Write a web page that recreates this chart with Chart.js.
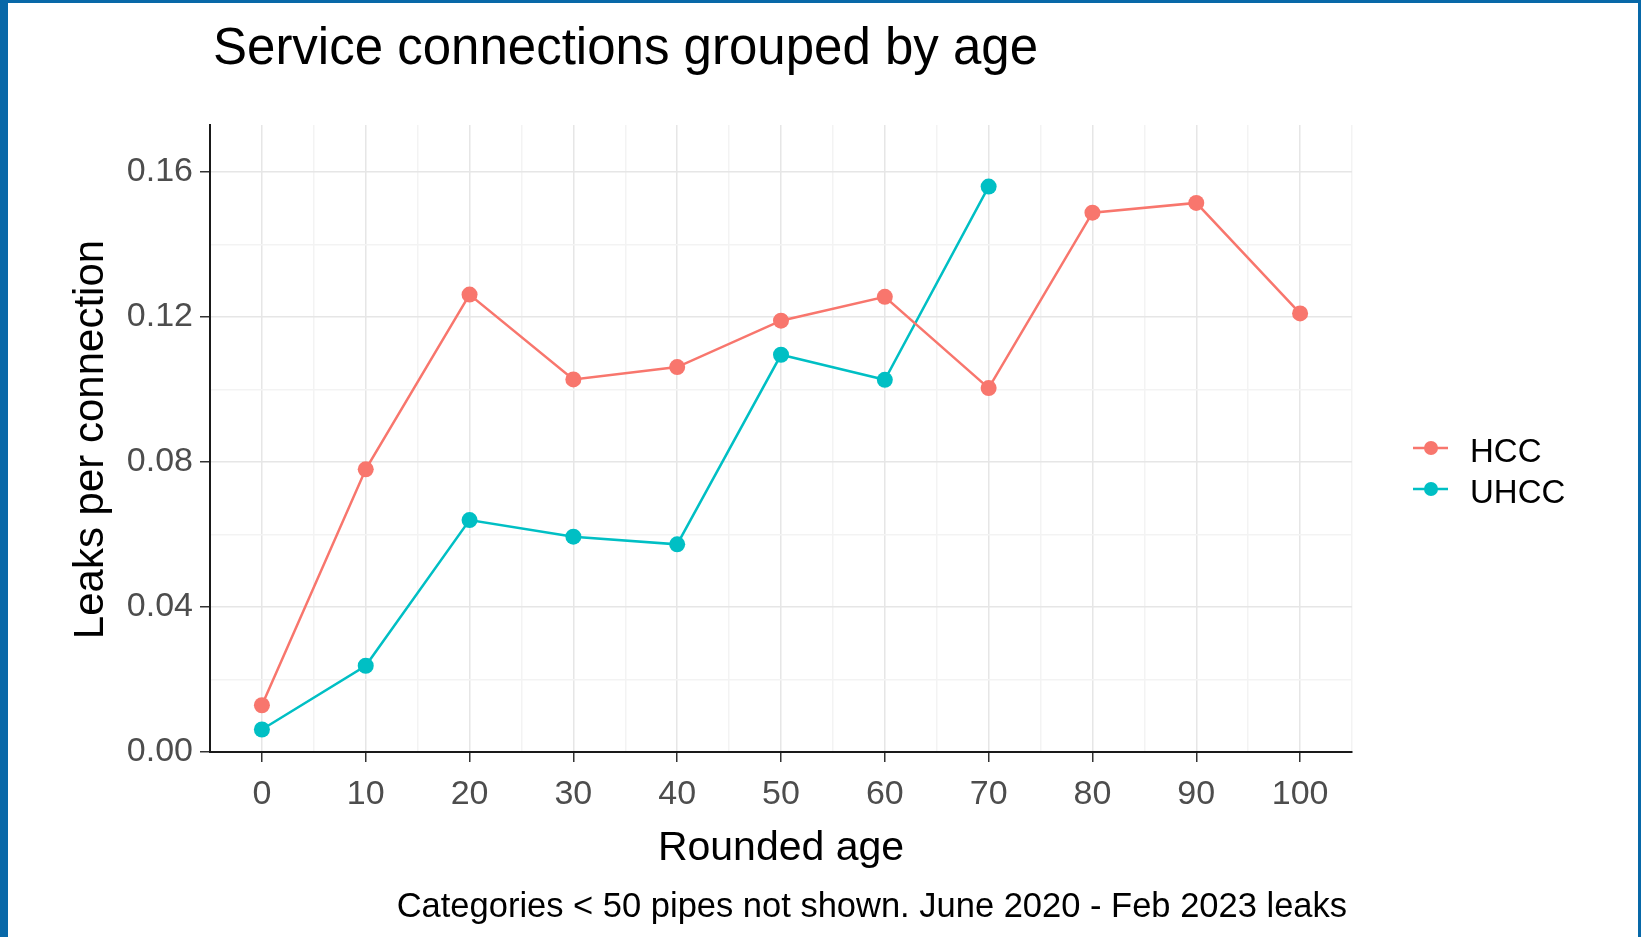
<!DOCTYPE html>
<html lang="en">
<head>
<meta charset="UTF-8" />
<title>Service connections grouped by age</title>
<script src="https://cdn.jsdelivr.net/npm/chart.js"></script>
<style>
  html, body { margin: 0; padding: 0; background: #fff; }
  #frame {
    position: absolute; left: 0; top: 0;
    width: 1641px; height: 937px; box-sizing: border-box;
    border-left: 8px solid #0868a8; border-top: 3px solid #0868a8; border-right: 3px solid #0868a8;
    background: #fff; overflow: hidden;
  }
</style>
</head>
<body>
<div id="frame">
  <canvas id="ageChart" width="1630" height="934"></canvas>
</div>
<script>
// data
const hccAges = [0, 10, 20, 30, 40, 50, 60, 70, 80, 90, 100];
const hccValues = [0.0129, 0.0780, 0.1262, 0.1028, 0.1062, 0.1190, 0.1256, 0.1004, 0.1488, 0.1515, 0.1210];
const uhccAges = [0, 10, 20, 30, 40, 50, 60, 70];
const uhccValues = [0.0062, 0.0238, 0.0640, 0.0594, 0.0573, 0.1096, 0.1027, 0.1560];
const seriesNames = ['HCC', 'UHCC'];
const seriesColors = ['#F8766D', '#00BFC4'];

const chartTitle = 'Service connections grouped by age';
const xTitle = 'Rounded age';
const yTitle = 'Leaks per connection';
const caption = 'Categories < 50 pipes not shown. June 2020 - Feb 2023 leaks';

const FONT = '"Liberation Sans", Arial, sans-serif';
const majorGrid = '#E6E6E6';
const minorGrid = '#F3F3F3';

const toPoints = (xs, ys) => xs.map((x, i) => ({ x: x, y: ys[i] }));

// titles, caption and legend drawn on top of the chart
const textPlugin = {
  id: 'textPlugin',
  afterDraw(chart) {
    const ctx = chart.ctx;
    ctx.save();
    ctx.fillStyle = '#000';

    ctx.font = '51px ' + FONT;
    ctx.textAlign = 'left';
    ctx.textBaseline = 'alphabetic';
    ctx.fillText(chartTitle, 205, 61);

    ctx.font = '41px ' + FONT;
    ctx.textAlign = 'center';
    ctx.fillText(xTitle, (chart.chartArea.left + chart.chartArea.right) / 2, 857);

    ctx.save();
    ctx.font = '42px ' + FONT;
    ctx.translate(95, (chart.chartArea.top + chart.chartArea.bottom) / 2 + 1);
    ctx.rotate(-Math.PI / 2);
    ctx.fillText(yTitle, 0, 0);
    ctx.restore();

    ctx.font = '34.5px ' + FONT;
    ctx.textAlign = 'right';
    ctx.fillText(caption, 1339, 914);

    // legend
    const rows = [445, 486];
    chart.data.datasets.forEach((ds, i) => {
      const y = rows[i];
      ctx.strokeStyle = ds.borderColor;
      ctx.lineWidth = 2.5;
      ctx.beginPath();
      ctx.moveTo(1405, y);
      ctx.lineTo(1440, y);
      ctx.stroke();
      ctx.fillStyle = ds.borderColor;
      ctx.beginPath();
      ctx.arc(1423, y, 7, 0, Math.PI * 2);
      ctx.fill();
      ctx.fillStyle = '#000';
      ctx.font = '33px ' + FONT;
      ctx.textAlign = 'left';
      ctx.textBaseline = 'middle';
      ctx.fillText(ds.label, 1462, y + 5);
    });
    ctx.restore();
  }
};

new Chart(document.getElementById('ageChart'), {
  type: 'line',
  data: {
    datasets: [
      {
        label: seriesNames[0],
        data: toPoints(hccAges, hccValues),
        borderColor: seriesColors[0],
        backgroundColor: seriesColors[0],
        borderWidth: 2.5,
        pointRadius: 8,
        pointBorderWidth: 0,
        tension: 0
      },
      {
        label: seriesNames[1],
        data: toPoints(uhccAges, uhccValues),
        borderColor: seriesColors[1],
        backgroundColor: seriesColors[1],
        borderWidth: 2.5,
        pointRadius: 8,
        pointBorderWidth: 0,
        tension: 0
      }
    ]
  },
  options: {
    responsive: false,
    animation: false,
    layout: { padding: { left: 0, top: 122, right: 286, bottom: 85 } },
    plugins: {
      legend: { display: false },
      title: { display: false },
      tooltip: { enabled: false }
    },
    scales: {
      x: {
        type: 'linear',
        min: -5,
        max: 105,
        afterFit: (scale) => { scale.height = 100; },
        border: { color: '#1a1a1a', width: 2 },
        grid: {
          color: (c) => (c.tick && c.tick.value % 10 === 0 ? majorGrid : minorGrid),
          lineWidth: 1.5,
          tickColor: (c) => (c.tick && c.tick.value % 10 === 0 ? '#333' : 'rgba(0,0,0,0)'),
          tickLength: 10
        },
        ticks: {
          stepSize: 5,
          autoSkip: false,
          maxRotation: 0,
          padding: 12,
          color: '#4D4D4D',
          font: { family: FONT, size: 34 },
          callback: (v) => (v % 10 === 0 ? String(v) : '')
        }
      },
      y: {
        min: 0,
        max: 0.173,
        afterFit: (scale) => { scale.width = 202; },
        border: { color: '#1a1a1a', width: 2 },
        grid: {
          color: (c) => (c.tick && Math.round(c.tick.value * 100) % 4 === 0 ? majorGrid : minorGrid),
          lineWidth: 1.5,
          tickColor: (c) => (c.tick && Math.round(c.tick.value * 100) % 4 === 0 ? '#333' : 'rgba(0,0,0,0)'),
          tickLength: 10
        },
        ticks: {
          stepSize: 0.02,
          includeBounds: false,
          autoSkip: false,
          padding: 7,
          color: '#4D4D4D',
          font: { family: FONT, size: 34 },
          callback: (v) => (Math.round(v * 100) % 4 === 0 ? v.toFixed(2) : '')
        }
      }
    }
  },
  plugins: [textPlugin]
});
</script>
</body>
</html>
